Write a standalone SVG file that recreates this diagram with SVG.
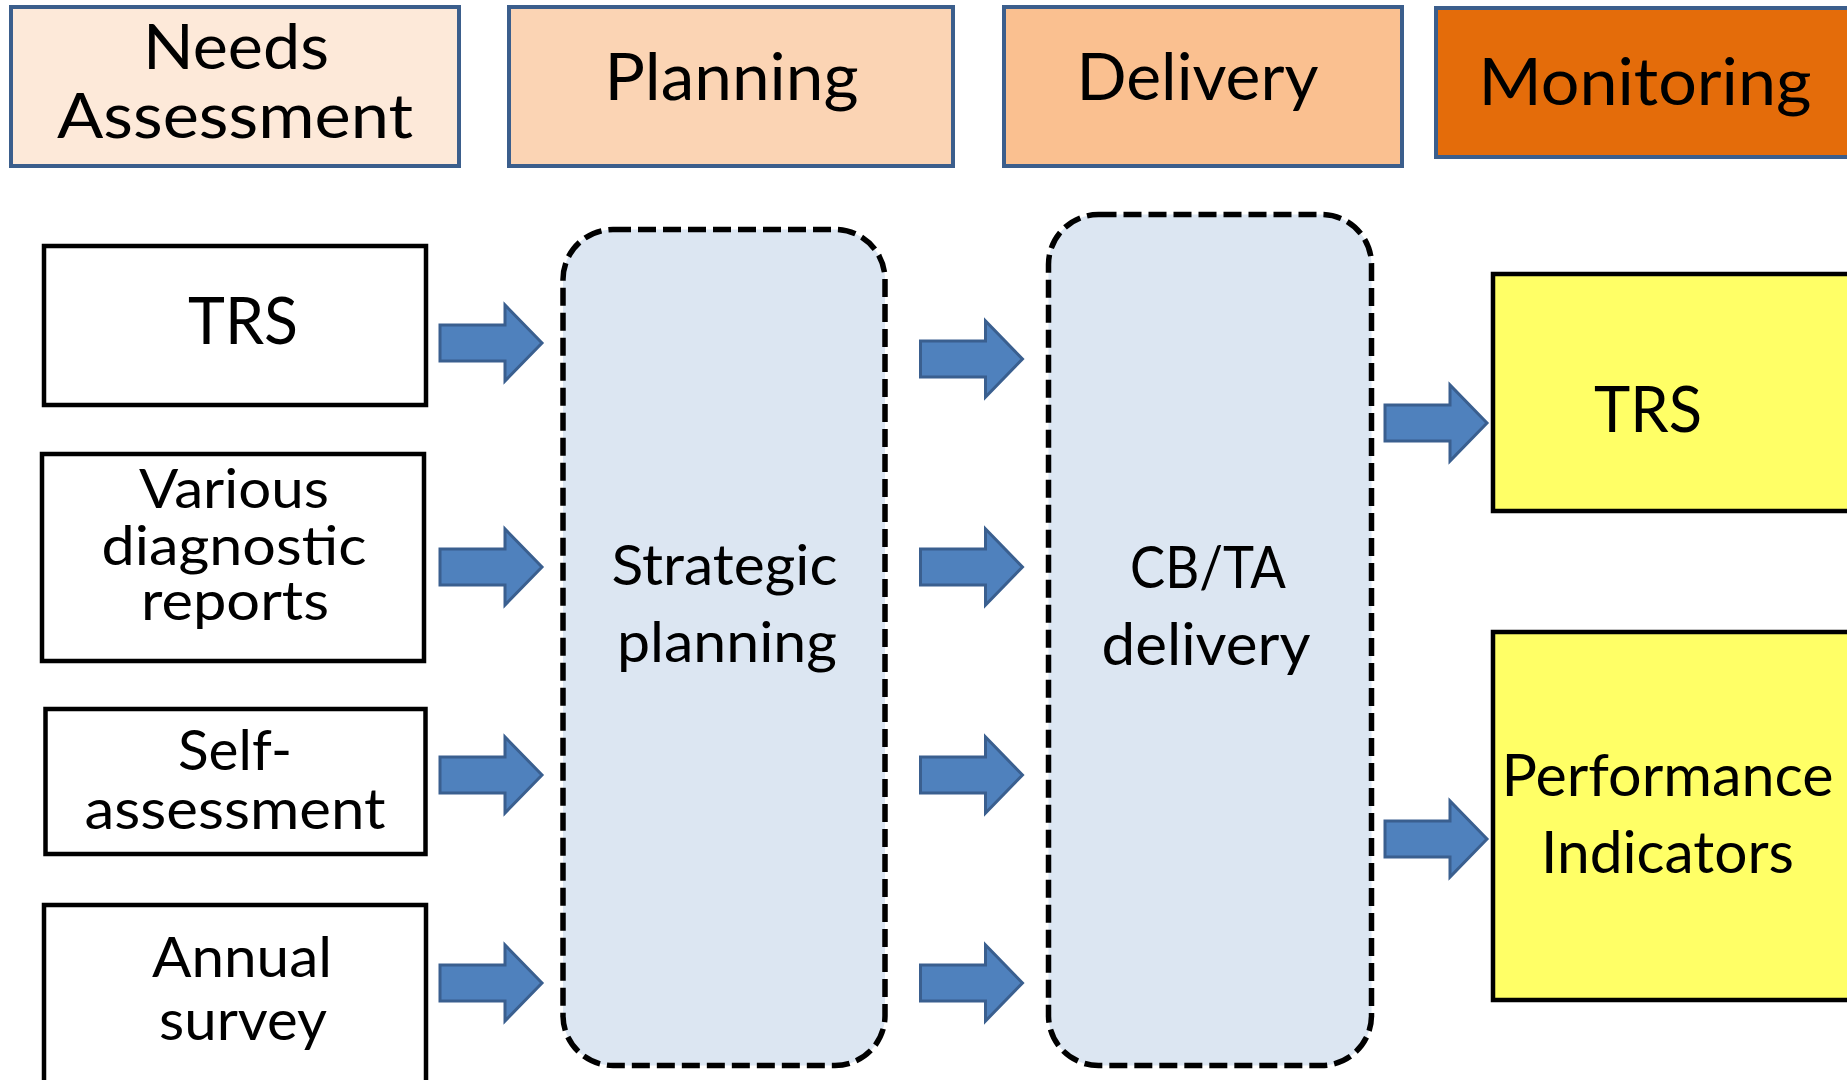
<svg xmlns="http://www.w3.org/2000/svg" xmlns:xlink="http://www.w3.org/1999/xlink" width="1847" height="1080" viewBox="0 0 1847 1080">
<defs>
<style>
text{font-family:Lato,"Open Sans","Liberation Sans",sans-serif;fill:#000;text-anchor:middle}
.hdr{stroke:#3B5E8C;stroke-width:4}
.box{fill:#fff;stroke:#000;stroke-width:4.5}
.ybox{fill:#FFFF66;stroke:#000;stroke-width:4.5}
.dash{fill:#DCE6F2;stroke:#000;stroke-width:5.5;stroke-dasharray:18 7}
.arr{fill:#4F81BD;stroke:#3A5F8F;stroke-width:3;stroke-linejoin:miter}
</style>
<path id="arr" class="arr" d="M0,-18 H65 V-38 L102,0 L65,38 V18 H0 Z"/>
</defs>
<rect width="1847" height="1080" fill="#fff"/>

<g id="hdr-needs">
<rect class="hdr" x="11" y="7" width="448" height="159" fill="#FDE9D9"/>
<text x="236" y="68.5" font-size="61" textLength="186" lengthAdjust="spacingAndGlyphs">Needs</text>
<text x="235" y="138.3" font-size="61" textLength="356" lengthAdjust="spacingAndGlyphs">Assessment</text>
</g>
<g id="hdr-planning">
<rect class="hdr" x="509" y="7" width="444" height="159" fill="#FBD4B4"/>
<text x="731.5" y="100" font-size="65.6" textLength="254" lengthAdjust="spacingAndGlyphs">Planning</text>
</g>
<g id="hdr-delivery">
<rect class="hdr" x="1004" y="7" width="398" height="159" fill="#FAC090"/>
<text x="1197.5" y="100" font-size="65.6" textLength="242" lengthAdjust="spacingAndGlyphs">Delivery</text>
</g>
<g id="hdr-monitoring">
<rect class="hdr" x="1436" y="8" width="420" height="149" fill="#E46C0A"/>
<text x="1645" y="105" font-size="65.6" textLength="333" lengthAdjust="spacingAndGlyphs">Monitoring</text>
</g>

<g id="in-trs">
<rect class="box" x="44" y="246" width="382" height="159"/>
<text x="243" y="344" font-size="65.6" textLength="110" lengthAdjust="spacingAndGlyphs">TRS</text>
</g>
<g id="in-various">
<rect class="box" x="42" y="454" width="382" height="207"/>
<text x="234" y="508" font-size="54.5" textLength="190" lengthAdjust="spacingAndGlyphs">Various</text>
<text x="234" y="565" font-size="54.5" textLength="265" lengthAdjust="spacingAndGlyphs">diagnostic</text>
<text x="235" y="620" font-size="54.5" textLength="188" lengthAdjust="spacingAndGlyphs">reports</text>
</g>
<g id="in-self">
<rect class="box" x="45.5" y="709" width="380" height="145"/>
<text x="235" y="770" font-size="56" textLength="114" lengthAdjust="spacingAndGlyphs">Self-</text>
<text x="235" y="829" font-size="56" textLength="301" lengthAdjust="spacingAndGlyphs">assessment</text>
</g>
<g id="in-annual">
<rect class="box" x="44" y="905" width="382" height="200"/>
<text x="242" y="977" font-size="57" textLength="180" lengthAdjust="spacingAndGlyphs">Annual</text>
<text x="243" y="1040" font-size="57" textLength="168" lengthAdjust="spacingAndGlyphs">survey</text>
</g>

<g id="strategic">
<rect class="dash" x="563" y="229.5" width="322" height="836" rx="50" ry="50"/>
<text x="724.5" y="585" font-size="56" textLength="226" lengthAdjust="spacingAndGlyphs">Strategic</text>
<text x="727" y="662" font-size="56" textLength="220" lengthAdjust="spacingAndGlyphs">planning</text>
</g>
<g id="cbta">
<rect class="dash" x="1048.5" y="214.5" width="323" height="851" rx="50" ry="50"/>
<text x="1208" y="588" font-size="58" textLength="156" lengthAdjust="spacingAndGlyphs">CB/TA</text>
<text x="1206" y="665" font-size="58" textLength="209" lengthAdjust="spacingAndGlyphs">delivery</text>
</g>

<g id="out-trs">
<rect class="ybox" x="1493" y="274" width="400" height="237"/>
<text x="1648" y="432" font-size="63" textLength="108" lengthAdjust="spacingAndGlyphs">TRS</text>
</g>
<g id="out-pi">
<rect class="ybox" x="1493" y="632" width="400" height="368"/>
<text x="1667.5" y="796" font-size="58" textLength="332" lengthAdjust="spacingAndGlyphs">Performance</text>
<text x="1667.5" y="873" font-size="58" textLength="253" lengthAdjust="spacingAndGlyphs">Indicators</text>
</g>

<g id="connectors">
<use xlink:href="#arr" x="440" y="343"/>
<use xlink:href="#arr" x="440" y="567"/>
<use xlink:href="#arr" x="440" y="775"/>
<use xlink:href="#arr" x="440" y="983"/>
<use xlink:href="#arr" x="920.5" y="359"/>
<use xlink:href="#arr" x="920.5" y="567"/>
<use xlink:href="#arr" x="920.5" y="775"/>
<use xlink:href="#arr" x="920.5" y="983"/>
<use xlink:href="#arr" x="1385" y="423"/>
<use xlink:href="#arr" x="1385" y="839"/>
</g>
</svg>
